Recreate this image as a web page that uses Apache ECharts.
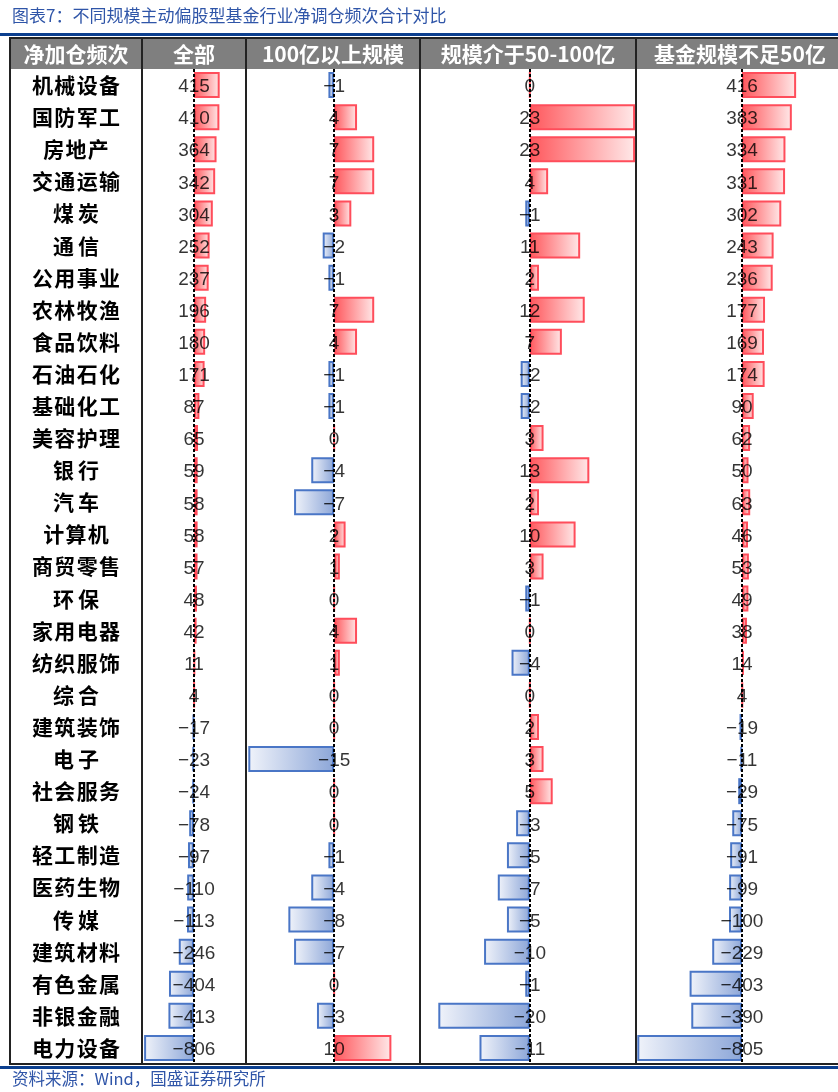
<!DOCTYPE html>
<html><head><meta charset="utf-8">
<script src="https://cdn.jsdelivr.net/npm/echarts@6/dist/echarts.min.js"></script>
<style>html,body{margin:0;padding:0;background:#fff}#c{width:838px;height:1092px}</style>
</head><body><div id="c"></div>
<script>
const categories = ['机械设备','国防军工','房地产','交通运输','煤炭','通信','公用事业','农林牧渔','食品饮料','石油石化','基础化工','美容护理','银行','汽车','计算机','商贸零售','环保','家用电器','纺织服饰','综合','建筑装饰','电子','社会服务','钢铁','轻工制造','医药生物','传媒','建筑材料','有色金属','非银金融','电力设备'];
const allFunds   = [415,410,364,342,304,252,237,196,180,171,87,65,59,58,58,57,48,42,11,4,-17,-23,-24,-78,-97,-110,-113,-246,-404,-413,-806];
const over100    = [-1,4,7,7,3,-2,-1,7,4,-1,-1,0,-4,-7,2,1,0,4,1,0,0,-15,0,0,-1,-4,-8,-7,0,-3,10];
const mid50to100 = [0,23,23,4,-1,11,2,12,7,-2,-2,3,13,2,10,3,-1,0,-4,0,2,3,5,-3,-5,-7,-5,-10,-1,-20,-11];
const under50    = [416,383,334,331,302,243,236,177,169,174,90,62,50,63,46,53,49,38,14,4,-19,-11,-29,-75,-91,-99,-100,-229,-403,-390,-805];
const headers = ['净加仓频次','全部','100亿以上规模','规模介于50-100亿','基金规模不足50亿'];
const title = '图表7：不同规模主动偏股型基金行业净调仓频次合计对比';
const source = '资料来源：Wind，国盛证券研究所';

const seriesValues = [allFunds, over100, mid50to100, under50];
const colBounds = [[142,246],[246,420],[420,636],[636,838]];
const ranges = [[-840,840],[-15.4,15],[-24,23.2],[-815,738]];
const TOP = 69, BOTTOM = 1064;

const chart = echarts.init(document.getElementById('c'), null, {renderer:'canvas'});
const grids = [], xAxes = [], yAxes = [], series = [];
const posGrad = () => new echarts.graphic.LinearGradient(0,0,1,0,[{offset:0,color:'#ff575c'},{offset:1,color:'#ffe9e9'}]);
const negGrad = () => new echarts.graphic.LinearGradient(0,0,1,0,[{offset:0,color:'#f0f3fa'},{offset:1,color:'#8ca6d8'}]);
const fmt = v => (v < 0 ? '\u2212' + Math.abs(v) : String(v));
const spaced = s => s.length <= 2 ? s.split('').join('\u2009') : s.split('').join('\u200A');

seriesValues.forEach((vals, g) => {
  grids.push({left: colBounds[g][0], width: colBounds[g][1]-colBounds[g][0], top: TOP, height: BOTTOM-TOP, containLabel:false});
  xAxes.push({type:'value', gridIndex:g, min:ranges[g][0], max:ranges[g][1], show:false});
  yAxes.push({type:'category', gridIndex:g, data:categories, inverse:true,
    show: g===0,
    axisLine:{show:false, onZero:false}, axisTick:{show:false}, splitLine:{show:false},
    axisLabel:{show: g===0, align:'center', margin:66, fontSize:21, fontWeight:'bold', color:'#000',
      padding:[4,0,0,0], formatter: spaced,
      fontFamily:'"Noto Sans CJK SC", sans-serif'}});
  series.push({
    type:'bar', xAxisIndex:g, yAxisIndex:g, barWidth:26, z:2,
    data: vals.map(v => ({value:v, itemStyle:{
      color: v>=0 ? posGrad() : negGrad(),
      borderColor: v>=0 ? '#ff4d5b' : '#4a76c6', borderWidth:2}})),
    markLine:{silent:true, symbol:'none', label:{show:false}, animation:false,
      lineStyle:{color:'#000', width:2, type:[3,2]}, data:[{xAxis:0}]}
  });
  series.push({
    type:'scatter', xAxisIndex:g, yAxisIndex:g, symbolSize:1, z:5,
    itemStyle:{color:'rgba(0,0,0,0)'},
    data: vals.map((v,i) => [0, i, v]),
    label:{show:true, position:'inside', offset:[0,2], formatter: p => fmt(p.value[2]),
      color:'#000', fontSize:19, fontFamily:'"Liberation Sans", Arial, sans-serif'}
  });
});

const headerCenters = [76, 194, 333, 528, 740];
const graphic = [
  {type:'text', x:12, y:16, style:{text:title, fontSize:17, fill:'#2f55a8', verticalAlign:'middle', fontFamily:'"Noto Sans CJK SC", sans-serif'}},
  {type:'rect', shape:{x:0,y:33,width:838,height:3}, style:{fill:'#0b3f8f'}},
  {type:'rect', shape:{x:10,y:38,width:828,height:31}, style:{fill:'#7f7f7f'}},
  {type:'line', shape:{x1:10,y1:38,x2:838,y2:38}, style:{stroke:'#222',lineWidth:2}},
  {type:'line', shape:{x1:10,y1:37,x2:10,y2:1065}, style:{stroke:'#222',lineWidth:2}},
  {type:'line', shape:{x1:10,y1:1064,x2:838,y2:1064}, style:{stroke:'#222',lineWidth:2}},
  {type:'rect', shape:{x:0,y:1066,width:838,height:3}, style:{fill:'#0b3f8f'}},
  {type:'text', x:12, y:1079, style:{text:source, fontSize:16.5, fill:'#2f55a8', verticalAlign:'middle', fontFamily:'"Noto Sans CJK SC", sans-serif'}}
];
[142,246,420,636].forEach(x => graphic.push({type:'line', shape:{x1:x,y1:38,x2:x,y2:1064}, style:{stroke:'#222',lineWidth:2}}));
headers.forEach((h,i) => graphic.push({type:'text', x:headerCenters[i], y:54, style:{text:h, fontSize:21, fontWeight:'bold', fill:'#fff',
  align:'center', verticalAlign:'middle', fontFamily:'"Noto Sans CJK SC", sans-serif'}}));

chart.setOption({animation:false, grid:grids, xAxis:xAxes, yAxis:yAxes, series, graphic});
</script></body></html>
